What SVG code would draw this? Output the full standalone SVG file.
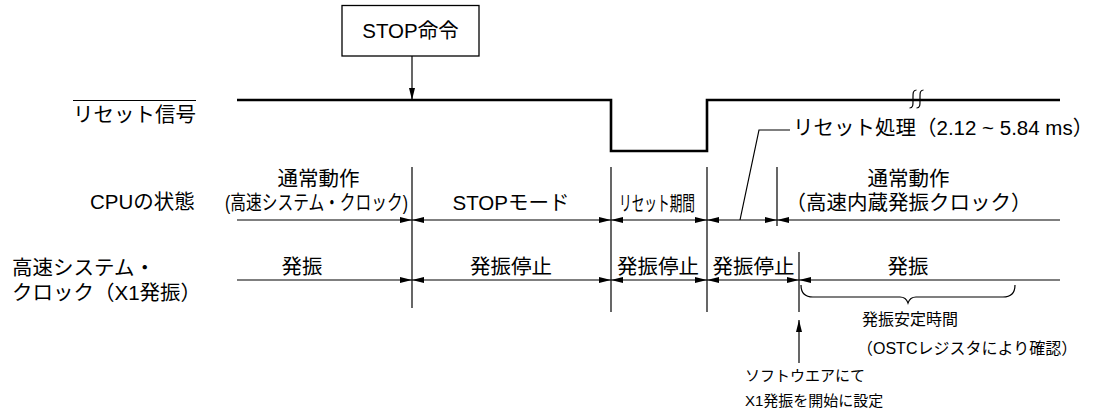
<svg xmlns="http://www.w3.org/2000/svg" width="1100" height="414" viewBox="0 0 1100 414">
<style>
.t{font-family:'Liberation Sans','Noto Sans CJK JP',sans-serif;fill:#000;font-size:20.5px}
.m{text-anchor:middle}
.s{font-size:16px}
.xs{font-size:15px}
.ln{stroke:#000;stroke-width:1.2;fill:none}
.sig{stroke:#000;stroke-width:2.6;fill:none}
.ar{marker-end:url(#ah)}
.ab{marker-start:url(#ah);marker-end:url(#ah)}
.as{marker-start:url(#ah)}
</style>
<defs>
<marker id="ah" viewBox="0 0 12 6" refX="12" refY="3" markerWidth="12" markerHeight="6" markerUnits="userSpaceOnUse" orient="auto-start-reverse">
<path d="M0,0 L12,3 L0,6 Z" fill="#000"/>
</marker>
</defs>
<rect width="1100" height="414" fill="#fff"/>

<g id="labels">
<line x1="73" y1="100.5" x2="196" y2="100.5" class="ln" stroke-width="1"/>
<text class="t" x="73" y="122">リセット信号</text>
<text class="t" x="90" y="209">CPUの状態</text>
<text class="t" x="12" y="275">高速システム・</text>
<text class="t" x="12" y="300">クロック（X1発振）</text>
</g>

<g id="stop-cmd">
<rect x="342" y="5.5" width="137" height="50.5" fill="#fff" stroke="#000" stroke-width="1.3"/>
<text class="t m" x="410.5" y="38">STOP命令</text>
</g>

<g id="reset-signal">
<polyline class="sig" points="237,100 611,100 611,151 707,151 707,100 1060,100"/>
<path class="ln" stroke-width="2.2" d="M916.5,90 C912.5,90 913,94 913,99 C913,104 913.5,108 909.5,108 M923.5,90 C919.5,90 920,94 920,99 C920,104 920.5,108 916.5,108"/>
</g>

<g id="cpu-state">
<text class="t m" x="318.5" y="185.5">通常動作</text>
<text class="t" x="225" y="210" font-size="19" textLength="183" lengthAdjust="spacingAndGlyphs">(高速システム・クロック)</text>
<text class="t m" x="511" y="210">STOPモード</text>
<text class="t" x="619" y="211" font-size="18" textLength="76" lengthAdjust="spacingAndGlyphs">リセット期間</text>
<text class="t m" x="908.5" y="185.5">通常動作</text>
<text class="t m" x="908.5" y="210" font-size="21">（高速内蔵発振クロック）</text>
</g>

<g id="reset-process">
<text class="t" x="793" y="135">リセット処理（2.12 ~ 5.84 ms）</text>
</g>

<g id="clock-state">
<text class="t m" x="302" y="273.5">発振</text>
<text class="t m" x="511" y="273.5">発振停止</text>
<text class="t m" x="658" y="273.5">発振停止</text>
<text class="t m" x="753.5" y="273.5">発振停止</text>
<text class="t m" x="908" y="273.5">発振</text>
</g>

<g id="stabilization">
<path class="ln" d="M801,285 Q801,297 813,297 L900,297 Q906,297 908,303 Q910,297 916,297 L1003,297 Q1015,297 1015,285"/>
<text class="t s" x="862" y="325">発振安定時間</text>
<text class="t s" x="857" y="354">（OSTCレジスタにより確認）</text>
</g>

<g id="software-note">
<text class="t xs" x="745" y="381">ソフトウエアにて</text>
<text class="t xs" x="745" y="406">X1発振を開始に設定</text>
</g>

<g id="connectors">
<line class="ln ar" x1="412" y1="56" x2="412" y2="100"/>
<line class="ln" x1="412" y1="167" x2="412" y2="308"/>
<line class="ln" x1="611" y1="167" x2="611" y2="312"/>
<line class="ln" x1="707" y1="167" x2="707" y2="312"/>
<line class="ln" x1="777" y1="167" x2="777" y2="226"/>
<line class="ln" x1="799" y1="252" x2="799" y2="312"/>
<line class="ln ar" x1="237" y1="220" x2="412" y2="220"/>
<line class="ln ab" x1="412" y1="220" x2="611" y2="220"/>
<line class="ln ab" x1="611" y1="220" x2="707" y2="220"/>
<line class="ln ab" x1="707" y1="220" x2="777" y2="220"/>
<line class="ln as" x1="777" y1="220" x2="1060" y2="220"/>
<line class="ln ar" x1="237" y1="280" x2="412" y2="280"/>
<line class="ln ab" x1="412" y1="280" x2="611" y2="280"/>
<line class="ln ab" x1="611" y1="280" x2="707" y2="280"/>
<line class="ln ab" x1="707" y1="280" x2="799" y2="280"/>
<line class="ln as" x1="799" y1="280" x2="1060" y2="280"/>
<polyline class="ln" stroke-width="1" points="740,220 759,130 790,130"/>
<line class="ln ar" x1="799" y1="363" x2="799" y2="320"/>
</g>
</svg>
